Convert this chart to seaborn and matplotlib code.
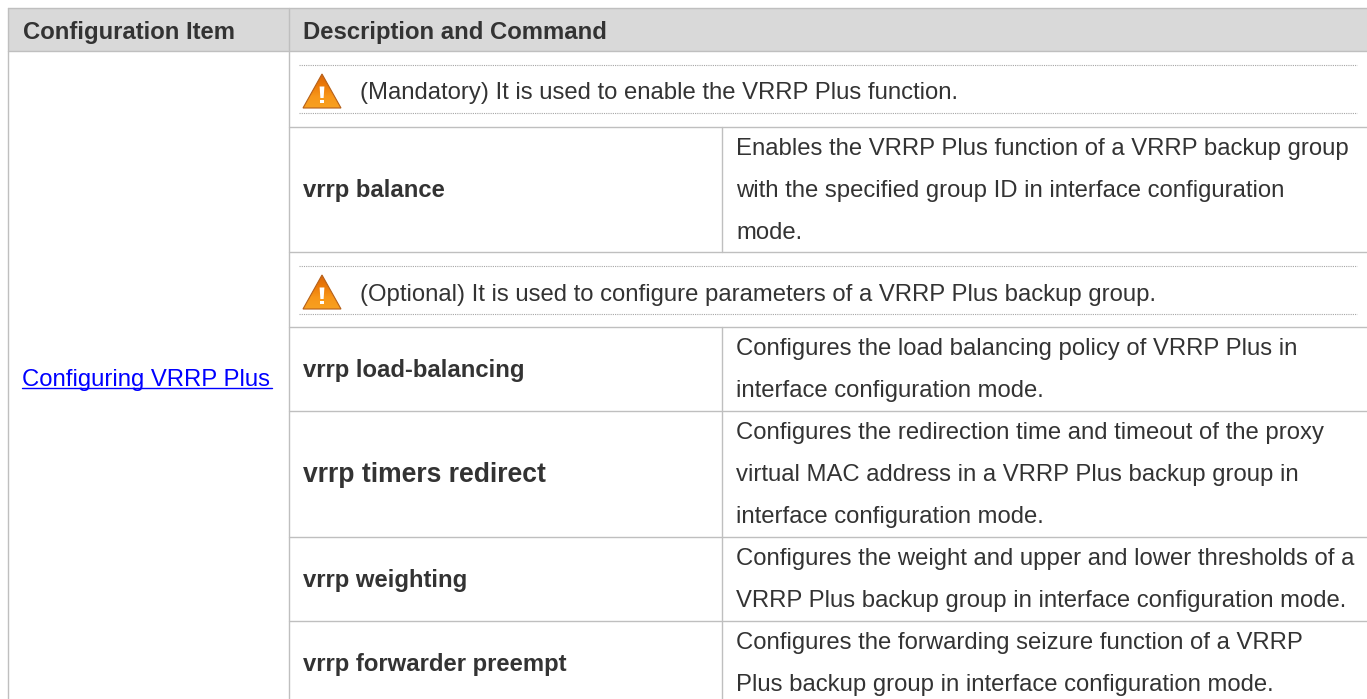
import matplotlib
matplotlib.use("Agg")
import matplotlib.pyplot as plt
from matplotlib.patches import Polygon, Rectangle
import numpy as np
import seaborn as sns

headers = ["Configuration Item", "Description and Command"]
config_item = "Configuring VRRP Plus"
notes = ["(Mandatory) It is used to enable the VRRP Plus function.",
         "(Optional) It is used to configure parameters of a VRRP Plus backup group."]
commands = ["vrrp balance", "vrrp load-balancing", "vrrp timers redirect",
            "vrrp weighting", "vrrp forwarder preempt"]
descriptions = [
    ["Enables the VRRP Plus function of a VRRP backup group",
     "with the specified group ID in interface configuration",
     "mode."],
    ["Configures the load balancing policy of VRRP Plus in",
     "interface configuration mode."],
    ["Configures the redirection time and timeout of the proxy",
     "virtual MAC address in a VRRP Plus backup group in",
     "interface configuration mode."],
    ["Configures the weight and upper and lower thresholds of a",
     "VRRP Plus backup group in interface configuration mode."],
    ["Configures the forwarding seizure function of a VRRP",
     "Plus backup group in interface configuration mode."],
]

sns.set_theme(style="white")
plt.rcParams['font.family'] = ['Liberation Sans', 'DejaVu Sans']

LINE = "#bfbfbf"
TEXT = "#333333"
LINK = "#0000ff"
FS = 17.2

fig = plt.figure(figsize=(13.67, 6.99), dpi=100)
ax = fig.add_axes([0, 0, 1, 1])
ax.set_xlim(0, 1367)
ax.set_ylim(699, 0)
ax.axis("off")

left, col1, col2, right = 7.5, 288.5, 721.5, 1367
top, head = 8.0, 51.0

ax.add_patch(Rectangle((left, top), right - left, head - top, fc="#d9d9d9", ec="none", zorder=0))
ax.plot([left, right], [top, top], color=LINE, lw=1)
ax.plot([left, right], [head, head], color=LINE, lw=1)
ax.plot([left, left], [top, 699], color=LINE, lw=1)
ax.plot([col1, col1], [top, 699], color=LINE, lw=1)
ax.text(23, 39, headers[0], fontsize=FS, fontweight="bold", color=TEXT, va="baseline")
ax.text(303, 39, headers[1], fontsize=FS, fontweight="bold", color=TEXT, va="baseline")

# item cell with the link
ax.text(22, 386, config_item, fontsize=FS, color=LINK, va="baseline")
ax.plot([22, 272], [388, 388], color=LINK, lw=1)


def warning(x, y):
    # orange triangle with white mark
    grad = np.linspace(0, 1, 64).reshape(-1, 1)
    cmap = matplotlib.colors.LinearSegmentedColormap.from_list(
        "w", ["#d9660a", "#ec7a08", "#f8971a", "#f7a020"])
    im = ax.imshow(grad, extent=(x, x + 38, y + 34, y), cmap=cmap, aspect="auto", zorder=2)
    tri = Polygon([(x + 19, y), (x + 38, y + 34), (x, y + 34)], closed=True,
                  fc="none", ec="#b5601a", lw=0.8, zorder=3)
    ax.add_patch(tri)
    im.set_clip_path(tri)
    ax.add_patch(Polygon([(x + 16.6, y + 12.5), (x + 21.4, y + 12.5), (x + 20.6, y + 24), (x + 17.4, y + 24)],
                         closed=True, fc="white", ec="none", zorder=4))
    ax.add_patch(Rectangle((x + 17.1, y + 25.5), 3.8, 3.8, fc="white", ec="none", zorder=4))


# note rows: dotted rule above and below, solid rule under
note_rows = [(64.5, 112.5, 126.5), (265.5, 313.5, 326.5)]
for note, (d1, d2, solid) in zip(notes, note_rows):
    for yy in (d1, d2):
        ax.plot([299, 1357], [yy, yy], color="#a6a6a6", lw=0.8, ls=(0, (1, 1)))
    ax.plot([col1, right], [solid, solid], color=LINE, lw=1)
    warning(303, d1 + 9.5)
    ax.text(360, (d1 + d2) / 2 + 11, note, fontsize=FS, color=TEXT, va="baseline")

# command rows
row_tops = [126.5, 326.5, 410.5, 536.5, 620.5]
row_bottoms = [251.5, 410.5, 536.5, 620.5, 704.5]
for i, (cmd, desc) in enumerate(zip(commands, descriptions)):
    y0, y1 = row_tops[i], row_bottoms[i]
    mid = (y0 + y1) / 2
    fs = 19.1 if cmd == "vrrp timers redirect" else FS
    ax.text(303, mid + 8.5, cmd, fontsize=fs, fontweight="bold", color=TEXT, va="baseline")
    ax.plot([col2, col2], [y0, min(y1, 699)], color=LINE, lw=1)
    ax.plot([col1, right], [y1, y1], color=LINE, lw=1)
    n = len(desc)
    for j, line in enumerate(desc):
        ax.text(736.5, mid + 8 + (j - (n - 1) / 2) * 42, line, fontsize=FS, color=TEXT, va="baseline")

ax.set_xlim(0, 1367)
ax.set_ylim(699, 0)
fig.savefig("out.png", dpi=100, facecolor="white")
